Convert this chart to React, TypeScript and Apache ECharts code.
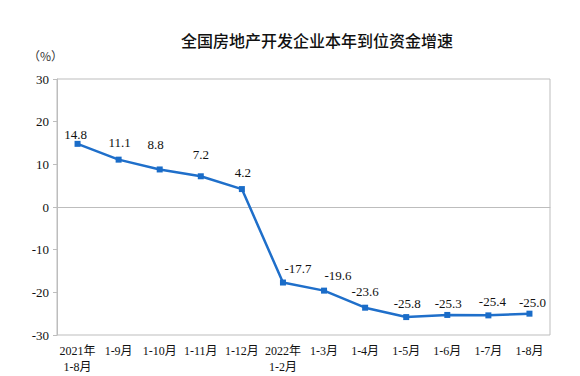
import React, { useEffect, useRef } from "react";
import * as echarts from "echarts";

const categories = [
  "2021年\n1-8月", "1-9月", "1-10月", "1-11月", "1-12月", "2022年\n1-2月",
  "1-3月", "1-4月", "1-5月", "1-6月", "1-7月", "1-8月",
];
const values = [14.8, 11.1, 8.8, 7.2, 4.2, -17.7, -19.6, -23.6, -25.8, -25.3, -25.4, -25.0];
const valueLabels = ["14.8", "11.1", "8.8", "7.2", "4.2", "-17.7", "-19.6", "-23.6", "-25.8", "-25.3", "-25.4", "-25.0"];
const yTicks = { min: -30, max: 30, interval: 10 };
const title = "全国房地产开发企业本年到位资金增速";
const unit = "（%）";

const labelOffsets: number[][] = [
  [-2, 5], [1, -3], [-4, -10], [0, -7], [1, -2], [15, 0],
  [14, -1], [0, -2], [1, 1], [1, 3], [4, 1], [3, 3],
];

const serif = "'Times New Roman', 'Liberation Serif', 'Noto Sans CJK SC', serif";

export default function App() {
  const ref = useRef<HTMLDivElement>(null);
  useEffect(() => {
    if (!ref.current) return;
    const chart = echarts.init(ref.current, undefined, { renderer: "svg" });
    chart.setOption({
      animation: false,
      backgroundColor: "#ffffff",
      title: {
        text: title,
        left: 312,
        textAlign: "center",
        top: 26,
        textStyle: {
          fontFamily: "'Noto Sans CJK SC', sans-serif",
          fontSize: 16,
          fontWeight: 500,
          color: "#111",
          lineHeight: 18,
        },
      },
      graphic: [
        {
          type: "text",
          left: 28,
          top: 49,
          style: {
            text: unit,
            fontFamily: "'Noto Sans CJK SC', serif",
            fontSize: 12,
            fill: "#333",
          },
        },
      ],
      grid: {
        left: 57,
        right: 30,
        top: 79,
        bottom: 41,
        show: true,
        borderColor: "#bdbdbd",
        borderWidth: 1,
      },
      xAxis: {
        type: "category",
        data: categories,
        boundaryGap: true,
        axisLine: { lineStyle: { color: "#bdbdbd" } },
        axisTick: { inside: true, length: 4, lineStyle: { color: "#bdbdbd" } },
        axisLabel: {
          interval: 0,
          color: "#111",
          fontFamily: serif,
          fontSize: 12,
          lineHeight: 16,
          margin: 8,
        },
        splitLine: { show: false },
      },
      yAxis: {
        type: "value",
        min: yTicks.min,
        max: yTicks.max,
        interval: yTicks.interval,
        axisLine: { show: true, lineStyle: { color: "#bdbdbd" } },
        axisTick: { show: true, inside: false, length: 4, lineStyle: { color: "#bdbdbd" } },
        axisLabel: {
          color: "#111",
          fontFamily: serif,
          fontSize: 13,
          margin: 8,
        },
        splitLine: { show: false },
      },
      series: [
        {
          type: "line",
          data: values.map((v, i) => ({
            value: v,
            label: { offset: labelOffsets[i] },
          })),
          symbol: "rect",
          symbolSize: 6,
          itemStyle: { color: "#1a6cc8" },
          lineStyle: { color: "#1f6fca", width: 2.5 },
          label: {
            show: true,
            position: "top",
            distance: 5,
            color: "#111",
            fontFamily: serif,
            fontSize: 13,
            formatter: (p: any) => valueLabels[p.dataIndex],
          },
        },
      ],
    });
    return () => chart.dispose();
  }, []);
  return (
    <div
      ref={ref}
      style={{ position: "fixed", left: 0, top: 0, width: 580, height: 376, background: "#fff" }}
    />
  );
}
